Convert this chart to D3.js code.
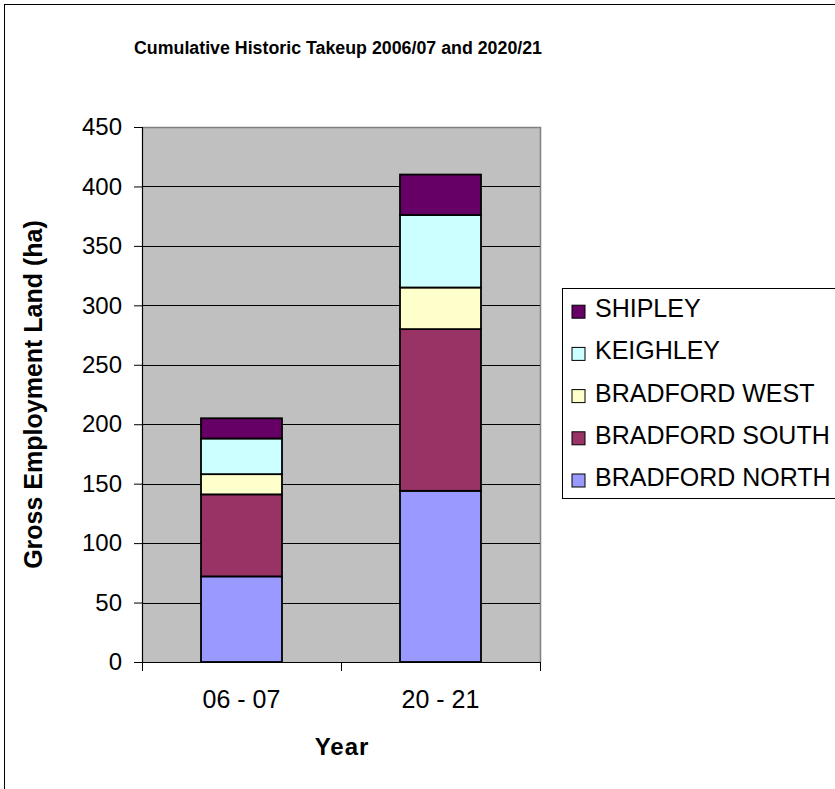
<!DOCTYPE html>
<html>
<head>
<meta charset="utf-8">
<script src="https://cdn.jsdelivr.net/npm/d3@7"></script>
<style>
  html, body { margin: 0; padding: 0; background: #fff; }
  svg { display: block; }
  text { font-family: "Liberation Sans", Arial, sans-serif; fill: #000; }
</style>
</head>
<body>
<svg id="chart" width="835" height="789"></svg>
<script>
// Cumulative employment land take-up by area (hectares)
const years = ["06 - 07", "20 - 21"];
const areas = ["BRADFORD NORTH", "BRADFORD SOUTH", "BRADFORD WEST", "KEIGHLEY", "SHIPLEY"];
const bradfordNorth = [72, 144];
const bradfordSouth = [69, 136];
const bradfordWest = [17, 35];
const keighley = [30, 61];
const shipley = [17, 34];
const areaColors = ["#9999ff", "#993366", "#ffffcc", "#ccffff", "#660066"];
const yTicks = [0, 50, 100, 150, 200, 250, 300, 350, 400, 450];

const seriesValues = [bradfordNorth, bradfordSouth, bradfordWest, keighley, shipley];
const rows = years.map((y, i) => {
  const r = { year: y };
  areas.forEach((a, j) => { r[a] = seriesValues[j][i]; });
  return r;
});
const stacked = d3.stack().keys(areas)(rows);

const svg = d3.select("#chart");

// outer chart frame
svg.append("rect")
  .attr("x", 4.5).attr("y", 4.5)
  .attr("width", 900).attr("height", 900)
  .attr("fill", "#fff").attr("stroke", "#000").attr("stroke-width", 1);

const plot = { left: 142, right: 540, top: 127, bottom: 662 };

const x = d3.scaleBand().domain(years)
  .range([plot.left, plot.right])
  .paddingInner(0.593).paddingOuter(0.2965);
const y = d3.scaleLinear().domain([0, 450]).range([plot.bottom, plot.top]);
const color = d3.scaleOrdinal().domain(areas).range(areaColors);

// plot background
svg.append("rect")
  .attr("x", plot.left).attr("y", plot.top)
  .attr("width", plot.right - plot.left).attr("height", plot.bottom - plot.top)
  .attr("fill", "#c0c0c0");
// grey border on top and right
svg.append("path")
  .attr("d", `M${plot.left},${plot.top + 0.5}H${plot.right + 0.5}V${plot.bottom}`)
  .attr("fill", "none").attr("stroke", "#808080").attr("stroke-width", 1.5);

// gridlines
svg.append("g")
  .selectAll("line")
  .data(yTicks.filter(t => t > 0 && t < 450))
  .join("line")
  .attr("x1", plot.left).attr("x2", plot.right)
  .attr("y1", d => Math.round(y(d)) + 0.5).attr("y2", d => Math.round(y(d)) + 0.5)
  .attr("stroke", "#000").attr("stroke-width", 1);

// stacked bars
svg.append("g")
  .selectAll("g")
  .data(stacked)
  .join("g")
  .attr("fill", d => color(d.key))
  .selectAll("rect")
  .data(d => d)
  .join("rect")
  .attr("x", d => x(d.data.year))
  .attr("width", x.bandwidth())
  .attr("y", d => y(d[1]))
  .attr("height", d => y(d[0]) - y(d[1]))
  .attr("stroke", "#000").attr("stroke-width", 1.8);

// y axis
const yAxis = svg.append("g")
  .attr("transform", `translate(${plot.left},0)`)
  .call(d3.axisLeft(y).tickValues(yTicks).tickSize(8).tickPadding(12));
yAxis.select(".domain").attr("stroke", "#000").attr("stroke-width", 1.2);
yAxis.selectAll(".tick line").attr("stroke", "#000");
yAxis.selectAll(".tick text")
  .attr("font-size", 24).attr("font-family", "Liberation Sans, Arial, sans-serif")
  .attr("fill", "#000");

// x axis with ticks between categories
const xAxisG = svg.append("g").attr("transform", `translate(0,${plot.bottom})`);
xAxisG.append("line")
  .attr("x1", plot.left).attr("x2", plot.right + 1)
  .attr("y1", 0.5).attr("y2", 0.5)
  .attr("stroke", "#000").attr("stroke-width", 1.2);
const boundaries = [plot.left, (x(years[0]) + x.bandwidth() + x(years[1])) / 2, plot.right];
xAxisG.selectAll(".sep")
  .data(boundaries)
  .join("line")
  .attr("class", "sep")
  .attr("x1", d => d + 0.5).attr("x2", d => d + 0.5)
  .attr("y1", 0).attr("y2", 9)
  .attr("stroke", "#000");
xAxisG.selectAll(".lbl")
  .data(years)
  .join("text")
  .attr("class", "lbl")
  .attr("x", d => x(d) + x.bandwidth() / 2)
  .attr("y", 46)
  .attr("text-anchor", "middle")
  .attr("font-size", 25)
  .text(d => d);

// axis titles
svg.append("text")
  .attr("x", 342).attr("y", 755)
  .attr("text-anchor", "middle")
  .attr("font-size", 24).attr("font-weight", "bold")
  .attr("letter-spacing", 1)
  .text("Year");

svg.append("text")
  .attr("transform", `translate(42,${(plot.top + plot.bottom) / 2}) rotate(-90)`)
  .attr("text-anchor", "middle")
  .attr("font-size", 25).attr("font-weight", "bold")
  .text("Gross Employment Land (ha)");

// chart title
svg.append("text")
  .attr("x", 338).attr("y", 54)
  .attr("text-anchor", "middle")
  .attr("font-size", 18).attr("font-weight", "bold")
  .attr("textLength", 408).attr("lengthAdjust", "spacingAndGlyphs")
  .text("Cumulative Historic Takeup 2006/07 and 2020/21");

// legend (top to bottom: last series first)
const legend = svg.append("g");
legend.append("rect")
  .attr("x", 562.5).attr("y", 288.5)
  .attr("width", 400).attr("height", 210)
  .attr("fill", "#fff").attr("stroke", "#000").attr("stroke-width", 1);
const legendItems = areas.slice().reverse();
const li = legend.selectAll(".item")
  .data(legendItems)
  .join("g")
  .attr("class", "item")
  .attr("transform", (d, i) => `translate(572,${311.7 + i * 42.2})`);
li.append("rect")
  .attr("x", 0).attr("y", -6.5)
  .attr("width", 13).attr("height", 13)
  .attr("fill", d => color(d))
  .attr("stroke", "#000").attr("stroke-width", 1);
li.append("text")
  .attr("x", 23).attr("y", 5.5)
  .attr("font-size", 25)
  .text(d => d);
</script>
</body>
</html>
